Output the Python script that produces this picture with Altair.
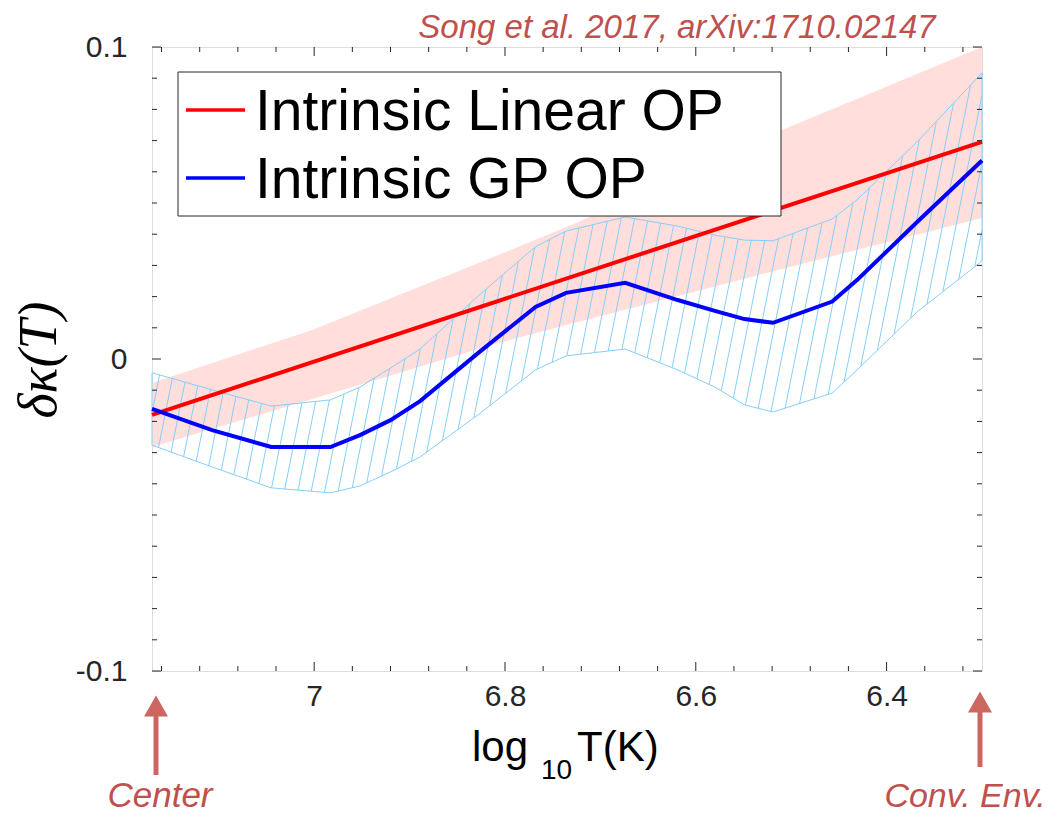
import altair as alt
import pandas as pd
import numpy as np

# ---------------- data ----------------
logT = [7.170, 7.107, 7.045, 6.983, 6.952, 6.920, 6.889, 6.827, 6.768, 6.736,
        6.674, 6.619, 6.580, 6.549, 6.519, 6.457, 6.431, 6.368, 6.300]
gp_mean = [-0.0160, -0.0228, -0.0282, -0.0282, -0.0244, -0.0196, -0.0135, 0.0022, 0.0167, 0.0212,
           0.0244, 0.0189, 0.0154, 0.0128, 0.0116, 0.0184, 0.0253, 0.0439, 0.0636]
gp_upper = [-0.0044, -0.0099, -0.0151, -0.0131, -0.0090, -0.0029, 0.0032, 0.0205, 0.0360, 0.0410,
            0.0455, 0.0426, 0.0397, 0.0381, 0.0379, 0.0449, 0.0510, 0.0696, 0.0917]
gp_lower = [-0.0276, -0.0346, -0.0413, -0.0429, -0.0407, -0.0362, -0.0314, -0.0176, -0.0035, 0.0010,
            0.0032, -0.0035, -0.0090, -0.0147, -0.0170, -0.0109, -0.0035, 0.0151, 0.0314]

lin_logT = [7.17, 6.30]
lin_mean = [-0.0179, 0.0696]
lin_band_logT = [7.170, 7.002, 6.807, 6.723, 6.514, 6.300]
lin_upper = [-0.0077, 0.0093, 0.0333, 0.0439, 0.0728, 0.1000]
lin_lower = [-0.0282, -0.0128, 0.0051, 0.0119, 0.0285, 0.0452]

legend_labels = ["Intrinsic Linear OP", "Intrinsic GP OP"]

x_major = [7.0, 6.8, 6.6, 6.4]
x_minor = [7.16, 7.12, 7.08, 7.04, 6.96, 6.92, 6.88, 6.84, 6.76, 6.72,
           6.68, 6.64, 6.56, 6.52, 6.48, 6.44, 6.36, 6.32]
y_major = [-0.1, 0.0, 0.1]
y_minor = [-0.09, -0.08, -0.07, -0.06, -0.05, -0.04, -0.03, -0.02, -0.01,
           0.01, 0.02, 0.03, 0.04, 0.05, 0.06, 0.07, 0.08, 0.09]

x_domain = [6.30, 7.17]
y_domain = [-0.1, 0.1]

# ---------------- layout / style ----------------
W, H = 830, 624
INK = "#262626"
ANNOT = "#c0504d"
PINK = "#ffdedb"
HATCH = "#87cefa"
FONT = "Liberation Sans"

x_scale = alt.Scale(domain=x_domain, reverse=True, nice=False, zero=False)
y_scale = alt.Scale(domain=y_domain, nice=False, zero=False)
x_axis = alt.Axis(values=x_major, format="~g", ticks=False, tickSize=0, domain=False, grid=False,
                  title=None, labelFontSize=30, labelFont=FONT, labelColor=INK, labelPadding=10,
                  labelFlush=False)
y_axis = alt.Axis(values=y_major, labelExpr="datum.value < 0 ? '-' + format(-datum.value, '~g') : format(datum.value, '~g')",
                  ticks=False, tickSize=0, domain=False, grid=False, title=None, labelFontSize=30,
                  labelFont=FONT, labelColor=INK, labelPadding=25, labelFlush=False)


def X(field="x"):
    return alt.X(f"{field}:Q", scale=x_scale, axis=x_axis)


def Y(field="y"):
    return alt.Y(f"{field}:Q", scale=y_scale, axis=y_axis)


# pink band of linear model
df_lin_band = pd.DataFrame({"x": lin_band_logT, "lo": lin_lower, "hi": lin_upper})
pink = alt.Chart(df_lin_band).mark_area(color=PINK, opacity=1).encode(
    x=X(), y=Y("lo"), y2="hi:Q")

# hatch lines inside the GP band (derived from the band arrays)
xa = np.array(logT)[::-1]
lo_a = np.array(gp_lower)[::-1]
hi_a = np.array(gp_upper)[::-1]
k = 0.2 * 3120 / 957.5          # slope of hatch lines in data units
step = 13.5 / 957.5             # spacing of hatch lines
segs = []
ys = np.linspace(-0.1, 0.1, 4001)
for c in np.arange(6.20, 7.30, step):
    xs = c - k * ys
    ok = (xs >= x_domain[0]) & (xs <= x_domain[1])
    lo_i = np.interp(xs, xa, lo_a)
    hi_i = np.interp(xs, xa, hi_a)
    m = ok & (ys >= lo_i) & (ys <= hi_i)
    if m.sum() > 1:
        y0, y1 = ys[m].min(), ys[m].max()
        segs.append({"x": c - k * y0, "y": y0, "x2": c - k * y1, "y2": y1})
df_hatch = pd.DataFrame(segs)
hatch = alt.Chart(df_hatch).mark_rule(color=HATCH, strokeWidth=1).encode(
    x=X(), y=Y(), x2="x2:Q", y2="y2:Q")

# GP band outline (closed polygon)
outline_x = logT + logT[::-1] + [logT[0]]
outline_y = gp_upper + gp_lower[::-1] + [gp_upper[0]]
df_outline = pd.DataFrame({"x": outline_x, "y": outline_y, "o": range(len(outline_x))})
outline = alt.Chart(df_outline).mark_line(color=HATCH, strokeWidth=1).encode(
    x=X(), y=Y(), order="o:Q")

# lines
df_lin = pd.DataFrame({"x": lin_logT, "y": lin_mean})
red = alt.Chart(df_lin).mark_line(color="#ff0000", strokeWidth=4).encode(x=X(), y=Y())
df_gp = pd.DataFrame({"x": logT, "y": gp_mean})
blue = alt.Chart(df_gp).mark_line(color="#0000ff", strokeWidth=4).encode(x=X(), y=Y())

# ticks (inward, on all four sides)
def xticks(vals, length):
    d = pd.DataFrame({"x": vals})
    b = alt.Chart(d).mark_rule(color=INK, strokeWidth=1).encode(
        x=X(), y=alt.value(H), y2=alt.value(H - length))
    t = alt.Chart(d).mark_rule(color=INK, strokeWidth=1).encode(
        x=X(), y=alt.value(0), y2=alt.value(length))
    return [b, t]


def yticks(vals, length):
    d = pd.DataFrame({"y": vals})
    l = alt.Chart(d).mark_rule(color=INK, strokeWidth=1).encode(
        y=Y(), x=alt.value(0), x2=alt.value(length))
    r = alt.Chart(d).mark_rule(color=INK, strokeWidth=1).encode(
        y=Y(), x=alt.value(W), x2=alt.value(W - length))
    return [l, r]


ticks = xticks(x_major, 9) + xticks(x_minor, 5) + yticks(y_major, 9) + yticks(y_minor, 5)

# legend
one = pd.DataFrame({"a": [0]})
leg_box = alt.Chart(one).mark_rect(fill="white", stroke=INK, strokeWidth=1).encode(
    x=alt.value(26), x2=alt.value(629), y=alt.value(25), y2=alt.value(169))
leg_red = alt.Chart(one).mark_rule(color="#ff0000", strokeWidth=3.5).encode(
    x=alt.value(34), x2=alt.value(93), y=alt.value(63))
leg_blue = alt.Chart(one).mark_rule(color="#0000ff", strokeWidth=3.5).encode(
    x=alt.value(34), x2=alt.value(93), y=alt.value(131))
leg_t1 = alt.Chart(pd.DataFrame({"t": [legend_labels[0]]})).mark_text(
    align="left", baseline="alphabetic", font=FONT, fontSize=57, color="black").encode(
    x=alt.value(103), y=alt.value(83), text="t:N")
leg_t2 = alt.Chart(pd.DataFrame({"t": [legend_labels[1]]})).mark_text(
    align="left", baseline="alphabetic", font=FONT, fontSize=57, color="black").encode(
    x=alt.value(103), y=alt.value(151), text="t:N")

# axis titles
def txt(s, x, y, **kw):
    return alt.Chart(pd.DataFrame({"t": [s]})).mark_text(**kw).encode(
        x=alt.value(x), y=alt.value(y), text="t:N")


xt_log = txt("log", 320, 714, align="left", baseline="alphabetic", font=FONT, fontSize=42, color="black")
xt_10 = txt("10", 389, 732, align="left", baseline="alphabetic", font=FONT, fontSize=28, color="black")
xt_T = txt("T(K)", 425, 714, align="left", baseline="alphabetic", font=FONT, fontSize=42, color="black")
yt = txt("δκ(T)", -112, 313, align="center", baseline="middle", font="Liberation Serif",
         fontStyle="italic", fontSize=54, angle=270, color="black")

# annotations
ann_font = "Liberation Sans"
song = txt("Song et al. 2017, arXiv:1710.02147", 525, -9, align="center", baseline="alphabetic",
           font=ann_font, fontStyle="italic", fontSize=33, color=ANNOT)
center = txt("Center", 8, 760, align="center", baseline="alphabetic", font=ann_font,
             fontStyle="italic", fontSize=35, color=ANNOT)
conv = txt("Conv. Env.", 813, 760, align="center", baseline="alphabetic", font=ann_font,
           fontStyle="italic", fontSize=34, color=ANNOT)
ARROW = "#cc6660"
arr1 = alt.Chart(one).mark_rule(color=ARROW, strokeWidth=5).encode(
    x=alt.value(4), y=alt.value(665), y2=alt.value(728))
arr1h = alt.Chart(one).mark_point(shape="triangle-up", filled=True, color=ARROW, size=576, opacity=1).encode(
    x=alt.value(4), y=alt.value(659))
arr2 = alt.Chart(one).mark_rule(color=ARROW, strokeWidth=5).encode(
    x=alt.value(828), y=alt.value(660), y2=alt.value(720))
arr2h = alt.Chart(one).mark_point(shape="triangle-up", filled=True, color=ARROW, size=576, opacity=1).encode(
    x=alt.value(828), y=alt.value(655))

chart = alt.layer(
    pink, hatch, outline, red, blue, *ticks, leg_box, leg_red, leg_blue, leg_t1, leg_t2,
    xt_log, xt_10, xt_T, yt, song, center, conv, arr1, arr1h, arr2, arr2h
).properties(
    width=W, height=H,
    autosize=alt.AutoSizeParams(type="none"),
    padding={"left": 144, "top": 39, "right": 68, "bottom": 148},
).configure_view(stroke=INK, strokeWidth=1.2).configure(background="white")

chart.save("out.html", embed_options={"renderer": "svg", "actions": False})
